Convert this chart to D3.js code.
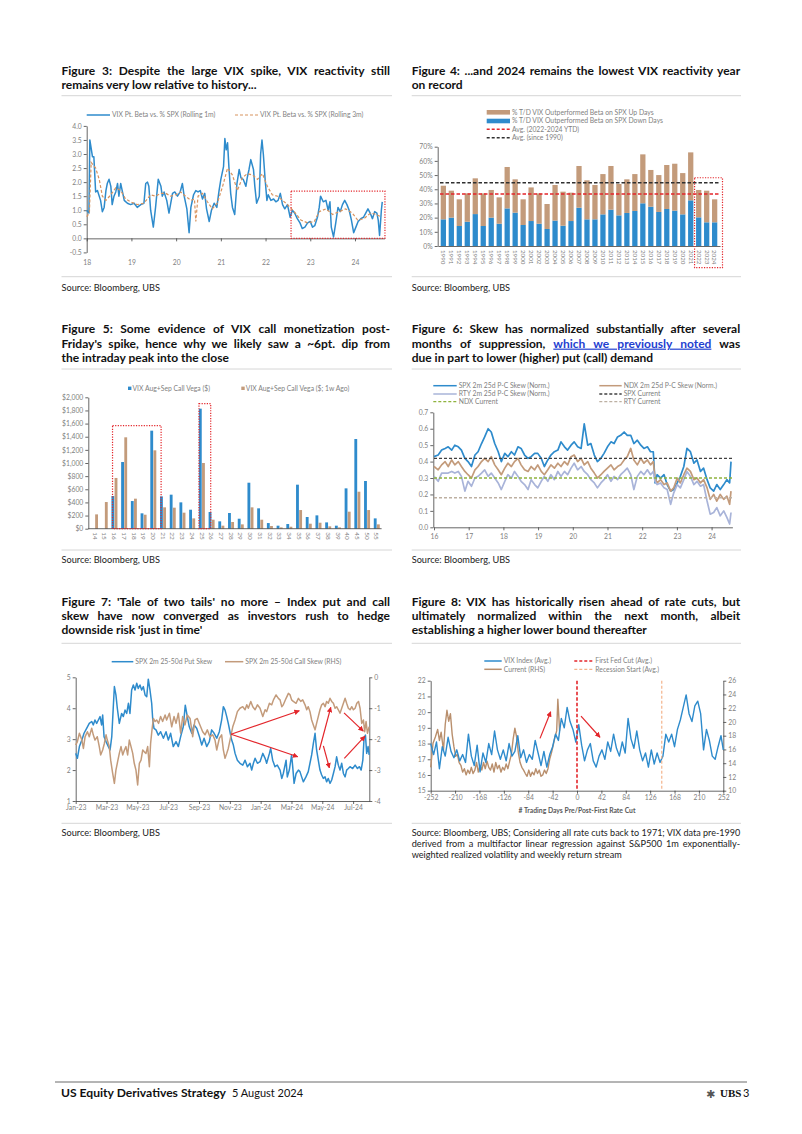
<!DOCTYPE html>
<html><head><meta charset="utf-8">
<script src="https://cdn.jsdelivr.net/npm/d3@7"></script>
<style>
html,body{margin:0;padding:0;background:#fff;}
svg{display:block;font-family:Lato,"Open Sans",sans-serif;}
</style></head><body>
<svg id="page" width="802" height="1134"></svg>
<script>
// ---------------- DATA ----------------
// Figure 3
const f3YTicks = [-0.5,0,0.5,1,1.5,2,2.5,3,3.5,4];
const f3XTicks = [18,19,20,21,22,23,24];
const f3Time = [18.00,18.05,18.07,18.13,18.16,18.20,18.24,18.31,18.35,18.39,18.43,18.46,18.50,18.54,18.57,18.61,18.65,18.69,18.72,18.76,18.80,18.84,18.91,18.98,19.06,19.13,19.21,19.28,19.32,19.36,19.39,19.43,19.49,19.54,19.60,19.66,19.69,19.73,19.79,19.84,19.88,19.92,19.97,20.03,20.09,20.14,20.18,20.24,20.29,20.33,20.39,20.44,20.49,20.54,20.59,20.64,20.68,20.74,20.79,20.85,20.91,20.96,21.00,21.06,21.09,21.12,21.15,21.18,21.22,21.26,21.31,21.36,21.41,21.45,21.50,21.56,21.59,21.63,21.67,21.73,21.76,21.80,21.86,21.89,21.92,21.95,21.99,22.03,22.06,22.12,22.18,22.23,22.28,22.33,22.38,22.43,22.49,22.55,22.60,22.65,22.71,22.77,22.82,22.88,22.94,23.00,23.05,23.10,23.16,23.20,23.23,23.29,23.35,23.40,23.44,23.47,23.52,23.57,23.62,23.67,23.72,23.77,23.82,23.87,23.92,23.97,24.02,24.07,24.13,24.19,24.24,24.29,24.34,24.39,24.44,24.49,24.52,24.55,24.59,24.61];
const f3Roll1m = [1.0,0.9,3.5,2.9,2.9,1.65,1.7,1.35,0.95,1.1,1.7,1.95,2.1,1.85,1.2,1.5,1.65,1.95,1.5,1.95,1.65,1.35,1.25,1.2,1.25,1.1,1.2,1.25,1.95,2.0,1.85,1.0,0.4,1.1,2.1,1.85,1.5,1.65,1.35,0.9,1.25,1.6,1.65,1.5,1.65,1.95,1.5,1.05,0.2,1.1,1.55,1.7,1.65,1.7,1.4,1.6,1.05,0.6,1.0,1.25,1.1,1.7,2.1,2.55,3.55,3.15,3.4,2.55,1.6,1.1,0.85,1.95,2.45,2.15,2.1,1.85,2.15,2.45,2.8,2.45,1.85,1.25,1.5,3.0,3.5,3.0,2.1,1.35,1.55,1.35,1.4,1.3,1.35,1.6,1.2,1.05,1.2,0.75,1.0,0.9,0.7,0.55,0.35,0.4,0.55,0.6,0.4,0.45,0.75,1.1,1.5,1.3,1.35,1.0,1.3,0.4,0.05,0.55,1.1,0.95,1.2,1.35,1.2,1.0,0.65,0.2,0.4,0.6,0.7,0.75,0.9,1.05,0.9,0.7,0.95,0.9,0.65,0.1,1.0,1.3];
const f3Time3m = [18.00,18.06,18.10,18.20,18.28,18.35,18.43,18.54,18.65,18.76,18.87,18.98,19.13,19.28,19.43,19.54,19.66,19.77,19.88,19.99,20.10,20.21,20.33,20.41,20.44,20.49,20.59,20.70,20.81,20.92,21.04,21.15,21.26,21.37,21.48,21.59,21.71,21.82,21.93,22.04,22.15,22.27,22.38,22.49,22.64,22.79,22.94,23.09,23.20,23.35,23.50,23.65,23.79,23.94,24.06,24.20,24.35,24.47,24.58];
const f3Roll3m = [0.77,0.9,2.7,2.5,2.1,1.5,1.35,1.55,1.8,1.7,1.4,1.3,1.2,1.25,1.55,1.5,1.6,1.6,1.5,1.55,1.65,1.5,1.35,1.4,0.6,1.5,1.6,1.3,1.05,1.25,1.85,2.5,2.25,1.7,2.15,2.3,2.25,2.1,2.3,1.85,1.55,1.5,1.35,1.2,0.95,0.65,0.55,0.6,0.95,1.05,0.85,0.95,1.05,0.9,0.65,0.7,0.9,0.85,0.77];
const f3Box = [22.57, 24.67, 0, 1.68]; // highlighted period (from, to, low, high)

// Figure 4
const f4Years = ["1990","1991","1992","1993","1994","1995","1996","1997","1998","1999","2000","2001","2002","2003","2004","2005","2006","2007","2008","2009","2010","2011","2012","2013","2014","2015","2016","2017","2018","2019","2020","2021","2022","2023","2024"];
const f4DownDays = [18.8,20,14.1,17.1,22.5,14.1,20,15.7,26.5,23.5,14.8,17.6,15.7,12,17.9,14.3,17.6,27,18.8,18.8,22.3,25.6,21.6,23.3,24.7,30.1,27.7,24,26.1,24.9,22.3,32.2,20.2,16.7,16.7];
const f4UpDays = [23.7,19,18.8,20,25.2,23,19.5,18.6,29.2,23.5,18.1,23.7,21.4,17.6,25.1,24,20,29.4,27.5,24.2,28.4,30.8,22.1,23.7,26,34.5,25.9,26,31,33.1,29.1,33.8,19.3,22.3,16.2];
const f4AvgRecent = 36.6;
const f4AvgAll = 44.6;
const f4YTicks = [0,10,20,30,40,50,60,70];

// Figure 5
const f5Strikes = ["14","15","16","17","18","19","20","21","22","23","24","25","26","27","28","29","30","31","32","33","34","35","36","37","38","39","40","45","50","55"];
const f5Vega = [0,0,497,1015,421,234,1492,492,518,401,289,1827,254,112,239,152,700,310,86,46,71,670,178,203,96,46,614,1365,726,157];
const f5Vega1w = [218,406,772,1391,457,213,1193,325,320,244,157,1000,137,46,102,66,325,137,41,20,30,284,76,91,36,20,259,563,284,66];
const f5YTicks = [0,200,400,600,800,1000,1200,1400,1600,1800,2000];

// Figure 6
const f6Time = [16.00,16.12,16.22,16.32,16.41,16.51,16.60,16.70,16.79,16.89,16.98,17.08,17.18,17.27,17.37,17.46,17.56,17.65,17.75,17.85,17.94,18.04,18.13,18.23,18.32,18.42,18.51,18.61,18.71,18.80,18.90,18.99,19.09,19.18,19.28,19.37,19.47,19.57,19.66,19.76,19.85,19.95,20.04,20.14,20.24,20.33,20.43,20.52,20.62,20.71,20.81,20.90,21.00,21.10,21.19,21.29,21.38,21.48,21.57,21.67,21.76,21.86,21.96,22.05,22.15,22.24,22.32,22.37,22.43,22.53,22.63,22.72,22.82,22.91,23.01,23.10,23.20,23.29,23.39,23.49,23.58,23.68,23.77,23.87,23.96,24.06,24.15,24.25,24.35,24.44,24.52,24.56];
const f6Spx = [0.43,0.44,0.47,0.48,0.49,0.47,0.50,0.49,0.47,0.42,0.40,0.37,0.44,0.46,0.51,0.55,0.60,0.58,0.51,0.46,0.40,0.45,0.43,0.46,0.44,0.49,0.48,0.44,0.42,0.43,0.45,0.45,0.42,0.37,0.41,0.44,0.46,0.47,0.52,0.49,0.47,0.50,0.52,0.49,0.48,0.63,0.50,0.51,0.44,0.40,0.42,0.45,0.49,0.52,0.51,0.55,0.56,0.58,0.56,0.56,0.51,0.53,0.50,0.48,0.49,0.46,0.46,0.27,0.32,0.30,0.32,0.26,0.22,0.23,0.27,0.31,0.37,0.48,0.46,0.39,0.41,0.34,0.36,0.29,0.24,0.22,0.26,0.23,0.26,0.29,0.27,0.40];
const f6Ndx = [0.37,0.35,0.38,0.40,0.37,0.41,0.38,0.40,0.37,0.34,0.32,0.30,0.35,0.37,0.40,0.42,0.40,0.43,0.38,0.35,0.32,0.36,0.39,0.37,0.40,0.42,0.38,0.35,0.34,0.37,0.35,0.38,0.34,0.32,0.35,0.38,0.36,0.39,0.37,0.40,0.38,0.43,0.44,0.40,0.42,0.38,0.40,0.36,0.33,0.30,0.32,0.34,0.36,0.38,0.35,0.37,0.38,0.41,0.43,0.48,0.41,0.38,0.42,0.39,0.41,0.38,0.40,0.30,0.27,0.29,0.26,0.27,0.22,0.24,0.30,0.27,0.32,0.36,0.34,0.29,0.30,0.27,0.29,0.24,0.17,0.20,0.16,0.20,0.17,0.19,0.14,0.22];
const f6Rty = [0.31,0.28,0.33,0.33,0.33,0.34,0.33,0.34,0.31,0.22,0.28,0.25,0.30,0.31,0.33,0.35,0.31,0.33,0.30,0.27,0.23,0.28,0.32,0.30,0.34,0.31,0.28,0.26,0.23,0.29,0.26,0.24,0.28,0.31,0.28,0.32,0.29,0.34,0.31,0.34,0.32,0.36,0.39,0.35,0.37,0.34,0.32,0.29,0.27,0.24,0.27,0.29,0.32,0.28,0.31,0.29,0.32,0.34,0.36,0.32,0.23,0.31,0.34,0.32,0.35,0.32,0.34,0.28,0.26,0.27,0.24,0.23,0.14,0.21,0.26,0.24,0.29,0.34,0.31,0.26,0.28,0.25,0.26,0.16,0.08,0.09,0.12,0.07,0.10,0.06,0.02,0.09];
const f6SpxCurrent = 0.42, f6NdxCurrent = 0.30, f6RtyCurrent = 0.18;
const f6XTicks = [16,17,18,19,20,21,22,23,24];
const f6YTicks = [0,0.1,0.2,0.3,0.4,0.5,0.6,0.7];

// Figure 7 (x = months since Jan-2023)
const f7TickMonths = [0,2,4,6,8,10,12,14,16,18];
const f7TickLabels = ["Jan-23","Mar-23","May-23","Jul-23","Sep-23","Nov-23","Jan-24","Mar-24","May-24","Jul-24"];
const f7PutTime = [0.00,0.11,0.24,0.40,0.54,0.71,0.88,1.04,1.14,1.25,1.36,1.47,1.58,1.68,1.75,1.84,1.97,2.12,2.23,2.34,2.44,2.51,2.61,2.70,2.83,2.98,3.09,3.20,3.31,3.42,3.52,3.63,3.74,3.85,3.96,4.06,4.17,4.28,4.39,4.50,4.61,4.71,4.82,4.93,5.00,5.08,5.21,5.36,5.51,5.69,5.86,6.01,6.16,6.33,6.51,6.66,6.81,6.98,7.11,7.24,7.37,7.53,7.68,7.85,8.03,8.18,8.33,8.50,8.67,8.82,8.98,9.15,9.32,9.47,9.58,9.69,9.80,9.90,10.01,10.12,10.23,10.34,10.49,10.66,10.84,10.99,11.14,11.31,11.42,11.53,11.64,11.79,11.96,12.14,12.29,12.39,12.57,12.65,12.78,12.93,13.08,13.26,13.37,13.47,13.65,13.73,13.86,14.01,14.08,14.17,14.30,14.45,14.55,14.66,14.77,14.94,15.09,15.20,15.31,15.42,15.53,15.63,15.74,15.85,15.96,16.07,16.18,16.28,16.39,16.50,16.61,16.72,16.83,16.93,17.04,17.15,17.26,17.37,17.48,17.58,17.69,17.80,17.97,18.13,18.28,18.41,18.52,18.63,18.71,18.80,18.88,18.97,19.04];
const f7Put = [2.54,2.38,2.76,2.97,3.19,3.35,3.51,3.57,3.46,3.62,3.51,3.62,3.73,3.46,3.78,3.08,2.92,2.76,2.65,3.08,4.05,4.70,4.43,4.00,3.51,3.83,3.73,3.94,3.83,4.16,3.83,4.59,4.75,4.59,4.81,4.64,4.75,4.59,4.70,4.43,4.37,4.94,4.59,4.16,3.62,3.35,3.30,3.13,3.24,3.03,3.24,2.97,3.19,2.76,2.92,2.76,3.08,3.40,4.10,3.73,3.40,3.19,3.46,3.35,3.08,2.81,3.03,2.76,2.92,3.30,3.19,3.03,3.24,3.62,4.05,3.94,3.73,3.51,3.24,2.97,2.81,2.54,2.32,2.22,2.16,2.32,2.11,2.22,2.00,2.22,2.38,2.22,2.27,2.54,2.38,2.22,2.54,2.70,2.32,2.11,2.16,2.00,1.73,1.89,2.32,1.78,2.00,2.49,2.11,1.57,1.89,2.00,1.95,1.78,1.62,1.78,1.95,2.22,2.49,2.86,3.19,2.65,2.32,2.00,1.84,1.73,1.78,1.62,1.73,1.57,1.68,1.89,2.11,2.43,2.16,2.00,2.22,1.89,1.78,2.00,2.05,2.11,2.05,2.16,2.05,2.11,2.00,2.32,3.03,3.13,2.54,2.76,2.49];
const f7CallTime = [0.00,0.11,0.24,0.40,0.50,0.61,0.76,0.88,1.04,1.14,1.25,1.40,1.53,1.62,1.75,1.86,1.97,2.05,2.18,2.27,2.40,2.51,2.61,2.72,2.83,2.94,3.05,3.16,3.26,3.37,3.48,3.59,3.70,3.80,3.91,4.02,4.13,4.24,4.35,4.45,4.56,4.67,4.78,4.86,4.95,5.04,5.15,5.25,5.38,5.51,5.64,5.80,5.90,6.08,6.23,6.38,6.51,6.66,6.81,6.94,7.09,7.24,7.42,7.59,7.74,7.89,8.06,8.24,8.39,8.54,8.71,8.89,9.04,9.15,9.32,9.47,9.58,9.69,9.80,9.90,10.06,10.19,10.34,10.49,10.66,10.84,10.99,11.10,11.20,11.36,11.49,11.64,11.79,11.96,12.14,12.29,12.39,12.57,12.72,12.83,13.00,13.15,13.26,13.37,13.47,13.65,13.80,13.91,14.01,14.12,14.30,14.45,14.60,14.73,14.88,14.99,15.09,15.20,15.31,15.42,15.53,15.63,15.74,15.85,15.96,16.07,16.18,16.28,16.39,16.50,16.61,16.72,16.83,16.93,17.04,17.15,17.26,17.37,17.48,17.58,17.69,17.80,17.91,18.02,18.13,18.24,18.35,18.45,18.56,18.67,18.75,18.84,18.93,19.04];
const f7Call = [-2.19,-2.08,-1.81,-2.03,-2.30,-1.92,-1.76,-1.92,-1.65,-1.86,-2.03,-1.92,-2.24,-2.51,-2.35,-2.14,-1.86,-2.03,-2.24,-2.68,-3.11,-3.43,-3.00,-2.73,-2.46,-2.24,-2.51,-2.35,-2.24,-2.51,-2.03,-2.24,-2.46,-2.78,-3.00,-3.48,-2.78,-2.68,-2.35,-2.41,-2.46,-2.24,-2.89,-2.14,-1.70,-1.33,-1.43,-1.38,-1.49,-1.27,-1.43,-1.22,-1.38,-1.16,-1.60,-1.27,-1.49,-1.16,-1.81,-1.27,-1.54,-1.22,-1.33,-1.92,-1.38,-1.33,-1.54,-1.76,-1.86,-1.70,-1.92,-1.86,-2.03,-2.35,-1.97,-1.86,-2.35,-2.62,-2.46,-2.30,-1.92,-1.60,-1.38,-1.11,-1.00,-0.95,-1.05,-0.89,-1.00,-0.78,-0.95,-1.05,-0.89,-1.00,-1.27,-1.05,-1.11,-0.84,-0.89,-0.73,-0.57,-0.68,-0.73,-0.95,-0.89,-0.68,-0.52,-0.57,-0.73,-0.78,-0.84,-0.68,-0.78,-0.73,-0.89,-1.05,-0.95,-1.11,-1.38,-1.54,-1.70,-1.49,-1.27,-1.05,-0.89,-0.84,-0.95,-0.78,-0.84,-0.68,-0.78,-0.84,-1.00,-0.95,-1.05,-1.16,-1.00,-0.84,-0.68,-0.84,-1.00,-1.05,-0.95,-1.05,-1.00,-0.84,-0.78,-1.00,-1.49,-1.38,-1.76,-1.43,-1.81,-1.60];
// arrows: [fromMonth, fromPutValue, toMonth, toPutValue]
const f7Arrows = [[10.08,3.16,14.51,3.92],[10.08,3.16,14.41,2.43],[15.81,2.65,16.55,4.03],[16.07,2.78,16.46,2.07],[17.41,3.85,18.66,3.26],[17.43,2.38,18.77,3.10]];

// Figure 8
const f8Ticks = [-252,-210,-168,-126,-84,-42,0,42,84,126,168,210,252];
const f8Days = [-252,-247,-242,-237,-232,-227,-222,-217,-212,-207,-202,-197,-192,-187,-182,-177,-172,-167,-162,-157,-152,-147,-142,-137,-132,-127,-122,-117,-112,-107,-102,-97,-92,-87,-82,-77,-72,-67,-62,-57,-52,-47,-42,-37,-32,-27,-22,-17,-12,-7,-2,3,8,13,18,23,28,33,38,43,48,53,58,63,68,73,78,83,88,93,98,103,108,113,118,123,128,133,138,143,148,153,158,163,168,173,178,183,188,193,198,203,208,213,218,223,228,233,238,243,248,252];
const f8Vix = [18.0,17.3,18.1,16.4,17.8,17.2,18.4,17.5,17.1,17.6,16.9,17.3,16.8,18.6,17.2,16.6,17.9,16.2,17.4,16.8,18.0,17.3,18.8,17.6,17.0,17.6,16.9,18.0,17.2,17.5,18.5,17.1,17.6,16.8,17.3,17.0,18.2,17.4,16.6,17.5,16.5,17.3,17.8,18.6,18.2,19.6,19.0,20.3,19.4,18.9,18.1,19.2,17.9,16.9,17.6,18.0,16.9,16.5,17.2,17.6,17.0,18.1,17.5,18.6,17.7,17.2,18.1,17.4,19.6,18.3,17.7,18.8,17.6,16.9,17.4,16.5,17.6,16.7,17.4,16.8,17.2,18.6,18.1,18.6,17.8,18.9,19.5,20.3,21.1,19.9,19.4,20.4,20.7,19.9,17.6,18.9,18.2,17.2,17.0,17.8,18.5,17.6];
const f8CurDays = [-252,-248,-244,-240,-237,-234,-230,-227,-224,-221,-218,-215,-212,-209,-206,-203,-200,-197,-194,-191,-188,-185,-182,-179,-176,-173,-170,-167,-164,-161,-158,-155,-152,-149,-146,-143,-140,-137,-134,-131,-128,-125,-122,-119,-116,-113,-110,-107,-104,-101,-98,-95,-92,-89,-86,-83,-80,-77,-74,-71,-68,-65,-62,-59,-56,-53,-50,-47,-44,-41,-38,-35,-33,-31,-30];
const f8Current = [13.4,16.9,17.8,18.9,17.3,18.5,15.9,19.6,21.7,20.1,21.2,18.2,16.4,15.0,15.3,14.1,13.7,12.7,13.2,12.3,13.0,12.5,13.4,12.5,13.0,14.1,12.7,13.7,13.0,14.1,13.2,14.3,13.4,13.0,13.9,12.7,14.1,13.2,13.7,12.7,13.4,13.0,13.9,13.2,14.3,15.3,17.5,19.1,17.8,15.5,14.1,13.4,13.0,12.5,12.1,13.0,12.1,12.7,12.3,13.2,12.5,13.0,12.1,12.3,13.0,12.5,13.2,14.6,15.5,16.6,17.8,18.7,23.3,20.3,18.7];
const f8FirstCut = 0, f8Recession = 146;
const f8Arrows = [[-63.7,18.33,-45.3,20.03],[6.9,19.75,39.6,18.40]];

// ---------------- STYLE ----------------
const BLUE='#2e8bcc', TAN='#c39b7b', ORANGE='#d8935e', RED='#e3262b', GRAY='#7f7f7f', AX='#404040', LINK='#2340d0';
const svg = d3.select('#page');
svg.append('rect').attr('width',802).attr('height',1134).attr('fill','#fff');
const defs = svg.append('defs');
defs.append('marker').attr('id','arr').attr('viewBox','0 0 10 10').attr('refX',9).attr('refY',5)
  .attr('markerWidth',5.5).attr('markerHeight',5.5).attr('markerUnits','userSpaceOnUse').attr('orient','auto')
  .append('path').attr('d','M0,0L10,5L0,10z').attr('fill',RED);

function txt(x,y,s,o={}){
  const t=svg.append('text').attr('x',x).attr('y',y).text(s)
    .attr('font-size',o.size||6.8).attr('fill',o.fill||GRAY);
  if(o.anchor) t.attr('text-anchor',o.anchor);
  if(o.weight) t.attr('font-weight',o.weight);
  if(o.dy) t.attr('dy',o.dy);
  return t;
}
function hline(x1,x2,y,c,w,dash){const l=svg.append('line').attr('x1',x1).attr('x2',x2).attr('y1',y).attr('y2',y).attr('stroke',c).attr('stroke-width',w); if(dash) l.attr('stroke-dasharray',dash); return l;}
function legLine(x1,x2,y,c,w,dash,label){hline(x1,x2,y,c,w,dash); txt(x2+2,y,label,{dy:'0.35em'});}
function legRect(x1,x2,y,c,label){svg.append('rect').attr('x',x1).attr('y',y-2.3).attr('width',x2-x1).attr('height',4.6).attr('fill',c); txt(x2+2,y,label,{dy:'0.35em'});}
function legSq(x,y,c,label){svg.append('rect').attr('x',x).attr('y',y-1.7).attr('width',3.4).attr('height',3.4).attr('fill',c); txt(x+4.5,y,label,{dy:'0.35em'});}
function fit(t,W,just){
  const n=t.node(); const w=n.getComputedTextLength(); const sp=(n.textContent.match(/ /g)||[]).length;
  if(w>W) t.attr('textLength',W).attr('lengthAdjust','spacingAndGlyphs');
  else if(just && sp) t.style('word-spacing',((W-w)/sp)+'px');
}
function block(lines,x,y0,lh,W,size,weight,fill){
  lines.forEach((ln,i)=>{
    const t=svg.append('text').attr('x',x).attr('y',y0+i*lh).attr('font-size',size).attr('font-weight',weight).attr('fill',fill);
    const parts = typeof ln.t==='string' ? [{s:ln.t}] : ln.t;
    parts.forEach(p=>{const ts=t.append('tspan').text(p.s); if(p.link) ts.attr('fill',LINK).style('text-decoration','underline');});
    fit(t, ln.w||W, !!ln.j);
  });
}
function sep(x1,x2,y){hline(x1,x2,y,'#d6d6d6',1);}
function styleAxis(g){
  g.attr('font-family',null).attr('font-size',null);
  g.select('.domain').attr('stroke',AX).attr('stroke-width',0.8);
  g.selectAll('.tick line').attr('stroke',AX).attr('stroke-width',0.8);
  g.selectAll('.tick text').attr('fill',GRAY).attr('font-size',6.8);
  return g;
}
const LX=61.5, RX=411.7, TW=328.5, LH=14.3;

// ---------------- FIGURE 3 ----------------
block([{t:'Figure 3: Despite the large VIX spike, VIX reactivity still',j:1},{t:'remains very low relative to history...',w:210}],LX,75,LH,TW,12,700,'#111');
sep(LX,392,95.7); sep(LX,392,276.7);
txt(LX,291,'Source: Bloomberg, UBS',{size:9.2,fill:'#222'});
legLine(86.7,110,115,BLUE,1.5,null,'VIX Pt. Beta vs. % SPX (Rolling 1m)');
legLine(235,258,115,ORANGE,1.2,'3,2','VIX Pt. Beta vs. % SPX (Rolling 3m)');
(function(){
  const x=d3.scaleLinear().domain([18,24.66]).range([86.7,384.5]);
  const y=d3.scaleLinear().domain([-0.5,4]).range([252.4,125.9]);
  styleAxis(svg.append('g').attr('transform','translate(86.7,0)').call(d3.axisLeft(y).tickValues(f3YTicks).tickFormat(d=>d.toFixed(1)).tickSize(3).tickSizeOuter(0).tickPadding(2)));
  styleAxis(svg.append('g').attr('transform',`translate(0,${y(0)})`).call(d3.axisBottom(x).tickValues(f3XTicks).tickFormat('').tickSize(3).tickSizeOuter(0)));
  const gl=styleAxis(svg.append('g').attr('transform',`translate(0,${y(-0.5)})`).call(d3.axisBottom(x).tickValues(f3XTicks).tickFormat(d=>String(d)).tickSize(0).tickPadding(8)));
  gl.select('.domain').remove();
  const line=d3.line().x(d=>x(d[0])).y(d=>y(d[1]));
  svg.append('path').datum(d3.zip(f3Time,f3Roll1m)).attr('d',line).attr('fill','none').attr('stroke',BLUE).attr('stroke-width',1.5).attr('stroke-linejoin','round');
  svg.append('path').datum(d3.zip(f3Time3m,f3Roll3m)).attr('d',line).attr('fill','none').attr('stroke',ORANGE).attr('stroke-width',1.2).attr('stroke-dasharray','3,2');
  svg.append('rect').attr('x',x(f3Box[0])).attr('y',y(f3Box[3])).attr('width',x(f3Box[1])-x(f3Box[0])).attr('height',y(f3Box[2])-y(f3Box[3]))
    .attr('fill','none').attr('stroke',RED).attr('stroke-width',1.2).attr('stroke-dasharray','1.2,1.4');
})();

// ---------------- FIGURE 4 ----------------
block([{t:'Figure 4: ...and 2024 remains the lowest VIX reactivity year',j:1},{t:'on record',w:53}],RX,75,LH,TW,12,700,'#111');
sep(RX,741,95.7); sep(RX,741,276.7);
txt(RX,291,'Source: Bloomberg, UBS',{size:9.2,fill:'#222'});
legRect(486.7,510,112.3,TAN,'% T/D VIX Outperformed Beta on SPX Up Days');
legRect(486.7,510,121,BLUE,'% T/D VIX Outperformed Beta on SPX Down Days');
legLine(486.7,510,129.3,RED,1.5,'3,2','Avg. (2022-2024 YTD)');
legLine(486.7,510,137.7,'#303030',1.5,'3,2','Avg. (since 1990)');
(function(){
  const x=d3.scaleBand().domain(f4Years).range([438,720]).padding(0.34);
  const y=d3.scaleLinear().domain([0,70]).range([246,146.7]);
  styleAxis(svg.append('g').attr('transform','translate(437.7,0)').call(d3.axisLeft(y).tickValues(f4YTicks).tickFormat(d=>d+'%').tickSize(3).tickSizeOuter(0).tickPadding(2)));
  const table=f4Years.map((yr,i)=>({year:yr,down:f4DownDays[i],up:f4UpDays[i]}));
  const st=d3.stack().keys(['down','up'])(table);
  const cols={down:BLUE,up:TAN};
  st.forEach(s=>{
    svg.append('g').selectAll('rect').data(s).join('rect')
      .attr('x',d=>x(d.data.year)).attr('width',x.bandwidth())
      .attr('y',d=>y(d[1])).attr('height',d=>y(d[0])-y(d[1])).attr('fill',cols[s.key]);
  });
  const gx=styleAxis(svg.append('g').attr('transform','translate(0,246)').call(d3.axisBottom(x).tickSize(0).tickSizeOuter(0)));
  gx.selectAll('text').attr('transform','rotate(90)').attr('x',4).attr('y',0).attr('dy','0.35em').style('text-anchor','start').attr('font-size',6.2);
  hline(x.range()[0]+2,x.range()[1],y(f4AvgAll),'#303030',1.5,'3.5,2');
  hline(x.range()[0]+2,x.range()[1],y(f4AvgRecent),RED,1.5,'3.5,2');
  const bx=x('2022')-1.5, bx2=x.range()[1]+2.5;
  svg.append('rect').attr('x',bx).attr('y',y(48.1)).attr('width',bx2-bx).attr('height',y(-15.3)-y(48.1))
    .attr('fill','none').attr('stroke',RED).attr('stroke-width',1.2).attr('stroke-dasharray','1.2,1.4');
})();

// ---------------- FIGURE 5 ----------------
block([{t:'Figure 5: Some evidence of VIX call monetization post-',j:1},{t:"Friday's spike, hence why we likely saw a ~6pt. dip from",j:1},{t:'the intraday peak into the close',w:179}],LX,333.3,LH,TW,12,700,'#111');
sep(LX,392,369); sep(LX,392,550);
txt(LX,563.3,'Source: Bloomberg, UBS',{size:9.2,fill:'#222'});
legSq(128,388.3,BLUE,'VIX Aug+Sep Call Vega ($)');
legSq(241.3,388.3,TAN,'VIX Aug+Sep Call Vega ($; 1w Ago)');
(function(){
  const x0=d3.scaleBand().domain(f5Strikes).range([90.1,381.6]);
  const x1=d3.scaleBand().domain(['now','ago']).range([1.9,7.9]).paddingInner(0.1);
  const y=d3.scaleLinear().domain([0,2000]).range([528.7,397.3]);
  styleAxis(svg.append('g').attr('transform','translate(88.3,0)').call(d3.axisLeft(y).tickValues(f5YTicks).tickFormat(d3.format('$,')).tickSize(3).tickSizeOuter(0).tickPadding(2)));
  const table=f5Strikes.map((k,i)=>({k,now:f5Vega[i],ago:f5Vega1w[i]}));
  const g=svg.append('g');
  table.forEach(d=>{
    [['now',BLUE],['ago',TAN]].forEach(([key,c])=>{
      g.append('rect').attr('x',x0(d.k)+x1(key)).attr('width',x1.bandwidth()).attr('y',y(d[key])).attr('height',y(0)-y(d[key])).attr('fill',c);
    });
  });
  hline(88.3,381.6,y(0),AX,0.8);
  f5Strikes.forEach(k=>{
    const cx=x0(k)+x0.bandwidth()/2;
    svg.append('text').attr('transform',`translate(${cx},${y(0)+3.5}) rotate(90)`).attr('dy','0.35em').attr('font-size',6.4).attr('fill',GRAY).text(k);
  });
  const box=(a,b,top,dx1,dx2)=>svg.append('rect').attr('x',x0(a)+dx1).attr('y',y(top)).attr('width',x0(b)+x0.step()+dx2-x0(a)-dx1).attr('height',y(0)-y(top))
    .attr('fill','none').attr('stroke',RED).attr('stroke-width',1.2).attr('stroke-dasharray','1.2,1.4');
  box('16','20',1568,3,3);
  box('25','25',1903,2,4);
})();

// ---------------- FIGURE 6 ----------------
block([{t:'Figure 6: Skew has normalized substantially after several',j:1},
       {t:[{s:'months of suppression, '},{s:'which we previously noted',link:1},{s:' was'}],j:1},
       {t:'due in part to lower (higher) put (call) demand',w:262}],RX,333.3,LH,TW,12,700,'#111');
sep(RX,741,369); sep(RX,741,550);
txt(RX,563.3,'Source: Bloomberg, UBS',{size:9.2,fill:'#222'});
const RTYC='#a9b4d9', NDXCUR='#8fb33e', RTYCUR='#bdb0a2';
legLine(433.3,456.7,385.7,BLUE,1.5,null,'SPX 2m 25d P-C Skew (Norm.)');
legLine(599.3,621.7,385.7,TAN,1.5,null,'NDX 2m 25d P-C Skew (Norm.)');
legLine(433.3,456.7,394,RTYC,1.5,null,'RTY 2m 25d P-C Skew (Norm.)');
legLine(599.3,621.7,394,'#404040',1.3,'3,2','SPX Current');
legLine(433.3,456.7,401.7,NDXCUR,1.3,'3,2','NDX Current');
legLine(599.3,621.7,401.7,RTYCUR,1.3,'3,2','RTY Current');
(function(){
  const x=d3.scaleLinear().domain([16,24.6]).range([434,732.4]);
  const y=d3.scaleLinear().domain([0,0.7]).range([527.3,412.3]);
  styleAxis(svg.append('g').attr('transform','translate(433.3,0)').call(d3.axisLeft(y).tickValues(f6YTicks).tickFormat(d=>d.toFixed(1)).tickSize(3).tickSizeOuter(0).tickPadding(2)));
  styleAxis(svg.append('g').attr('transform',`translate(0,${y(0)})`).call(d3.axisBottom(x).tickValues(f6XTicks).tickFormat(d=>String(d)).tickSize(3).tickSizeOuter(0).tickPadding(3.5)));
  const line=d3.line().x(d=>x(d[0])).y(d=>y(d[1]));
  [[f6Spx,BLUE],[f6Ndx,TAN],[f6Rty,RTYC]].forEach(([s,c])=>{
    svg.append('path').datum(d3.zip(f6Time,s)).attr('d',line).attr('fill','none').attr('stroke',c).attr('stroke-width',1.7).attr('stroke-linejoin','round');
  });
  const xe=x(f6Time[f6Time.length-1])+1;
  hline(434,xe,y(f6SpxCurrent),'#404040',1.3,'3,2');
  hline(434,xe,y(f6NdxCurrent),NDXCUR,1.3,'3,2');
  hline(434,xe,y(f6RtyCurrent),RTYCUR,1.3,'3,2');
})();

// ---------------- FIGURE 7 ----------------
block([{t:"Figure 7: 'Tale of two tails' no more \u2013 Index put and call",j:1},{t:'skew have now converged as investors rush to hedge',j:1},{t:"downside risk 'just in time'",w:151}],LX,605.7,LH,TW,12,700,'#111');
sep(LX,392,643.3); sep(LX,392,823.3);
txt(LX,835.7,'Source: Bloomberg, UBS',{size:9.2,fill:'#222'});
legLine(111.7,133.3,661.7,BLUE,1.5,null,'SPX 2m 25-50d Put Skew');
legLine(225,243.3,661.7,TAN,1.5,null,'SPX 2m 25-50d Call Skew (RHS)');
(function(){
  const x=d3.scaleLinear().domain([0,19.05]).range([75.7,369.3]);
  const yL=d3.scaleLinear().domain([1,5]).range([801,677.3]);
  const yR=d3.scaleLinear().domain([-4,0]).range([801,677.3]);
  styleAxis(svg.append('g').attr('transform','translate(75.7,0)').call(d3.axisLeft(yL).tickValues([1,2,3,4,5]).tickFormat(d=>String(d)).tickSize(3).tickSizeOuter(0).tickPadding(2)));
  styleAxis(svg.append('g').attr('transform','translate(369.3,0)').call(d3.axisRight(yR).tickValues([-4,-3,-2,-1,0]).tickFormat(d=>String(d)).tickSize(3).tickSizeOuter(0).tickPadding(2)));
  styleAxis(svg.append('g').attr('transform','translate(0,801)').call(d3.axisBottom(x).tickValues(f7TickMonths).tickFormat((d,i)=>f7TickLabels[i]).tickSize(3).tickSizeOuter(0).tickPadding(1.5)));
  const lL=d3.line().x(d=>x(d[0])).y(d=>yL(d[1]));
  const lR=d3.line().x(d=>x(d[0])).y(d=>yR(d[1]));
  svg.append('path').datum(d3.zip(f7PutTime,f7Put)).attr('d',lL).attr('fill','none').attr('stroke',BLUE).attr('stroke-width',1.5).attr('stroke-linejoin','round');
  svg.append('path').datum(d3.zip(f7CallTime,f7Call)).attr('d',lR).attr('fill','none').attr('stroke',TAN).attr('stroke-width',1.5).attr('stroke-linejoin','round');
  f7Arrows.forEach(a=>{
    svg.append('line').attr('x1',x(a[0])).attr('y1',yL(a[1])).attr('x2',x(a[2])).attr('y2',yL(a[3]))
      .attr('stroke',RED).attr('stroke-width',1.2).attr('marker-end','url(#arr)');
  });
})();

// ---------------- FIGURE 8 ----------------
block([{t:'Figure 8: VIX has historically risen ahead of rate cuts, but',j:1},{t:'ultimately normalized within the next month, albeit',j:1},{t:'establishing a higher lower bound thereafter',w:254}],RX,605.7,LH,TW,12,700,'#111');
sep(RX,741,643.3); sep(RX,741,823.3);
block([{t:'Source: Bloomberg, UBS; Considering all rate cuts back to 1971; VIX data pre-1990',j:1},
       {t:'derived from a multifactor linear regression against S&P500 1m exponentially-',j:1},
       {t:'weighted realized volatility and weekly return stream',w:210}],RX,835.7,11.3,TW,9.2,400,'#222');
const CURC='#b98f6d', RECC='#f3b48c';
legLine(484.3,501.7,661,BLUE,1.5,null,'VIX Index (Avg.)');
legLine(484.3,501.7,669.3,CURC,1.5,null,'Current (RHS)');
legLine(574.3,593.3,661,RED,1.5,'3,2','First Fed Cut (Avg.)');
legLine(574.3,593.3,669.3,RECC,1.3,'3,2','Recession Start (Avg.)');
(function(){
  const x=d3.scaleLinear().domain([-252,252]).range([430.7,723.3]);
  const yL=d3.scaleLinear().domain([15,22]).range([790.7,680.7]);
  const yR=d3.scaleLinear().domain([10,26]).range([790.7,680.7]);
  styleAxis(svg.append('g').attr('transform','translate(430.7,0)').call(d3.axisLeft(yL).tickValues([15,16,17,18,19,20,21,22]).tickFormat(d=>String(d)).tickSize(3).tickSizeOuter(0).tickPadding(2)));
  styleAxis(svg.append('g').attr('transform','translate(723.3,0)').call(d3.axisRight(yR).tickValues([10,12,14,16,18,20,22,24,26]).tickFormat(d=>String(d)).tickSize(3).tickSizeOuter(0).tickPadding(2)));
  styleAxis(svg.append('g').attr('transform','translate(0,790.7)').call(d3.axisBottom(x).tickValues(f8Ticks).tickFormat(d=>String(d)).tickSize(3).tickSizeOuter(0).tickPadding(1.5)));
  txt(577,812.5,'# Trading Days Pre/Post-First Rate Cut',{size:6.8,weight:700,fill:'#595959',anchor:'middle'});
  const lL=d3.line().x(d=>x(d[0])).y(d=>yL(d[1]));
  const lR=d3.line().x(d=>x(d[0])).y(d=>yR(d[1]));
  svg.append('path').datum(d3.zip(f8CurDays,f8Current)).attr('d',lR).attr('fill','none').attr('stroke',CURC).attr('stroke-width',1.4).attr('stroke-linejoin','round');
  svg.append('path').datum(d3.zip(f8Days,f8Vix)).attr('d',lL).attr('fill','none').attr('stroke',BLUE).attr('stroke-width',1.4).attr('stroke-linejoin','round');
  svg.append('line').attr('x1',x(f8FirstCut)).attr('x2',x(f8FirstCut)).attr('y1',yL(22)).attr('y2',yL(15)).attr('stroke',RED).attr('stroke-width',1.6).attr('stroke-dasharray','3.5,2');
  svg.append('line').attr('x1',x(f8Recession)).attr('x2',x(f8Recession)).attr('y1',yL(22)).attr('y2',yL(15)).attr('stroke',RECC).attr('stroke-width',1.2).attr('stroke-dasharray','3,2');
  f8Arrows.forEach(a=>{
    svg.append('line').attr('x1',x(a[0])).attr('y1',yL(a[1])).attr('x2',x(a[2])).attr('y2',yL(a[3]))
      .attr('stroke',RED).attr('stroke-width',1.2).attr('marker-end','url(#arr)');
  });
})();

// ---------------- FOOTER ----------------
hline(55,747,1082,'#444',0.8);
txt(61,1097,'US Equity Derivatives Strategy',{size:11,weight:700,fill:'#111'}).attr('textLength',165).attr('lengthAdjust','spacingAndGlyphs');
txt(232,1097,'5 August 2024',{size:11,fill:'#111'}).attr('textLength',71).attr('lengthAdjust','spacingAndGlyphs');
txt(706,1097.5,'\u2731',{size:11,fill:'#555'}).attr('font-family','DejaVu Sans');
txt(720,1097,'UBS',{size:11,weight:700,fill:'#111'}).attr('font-family','Liberation Serif');
txt(743,1097,'3',{size:11,fill:'#111'});
</script>
</body></html>
